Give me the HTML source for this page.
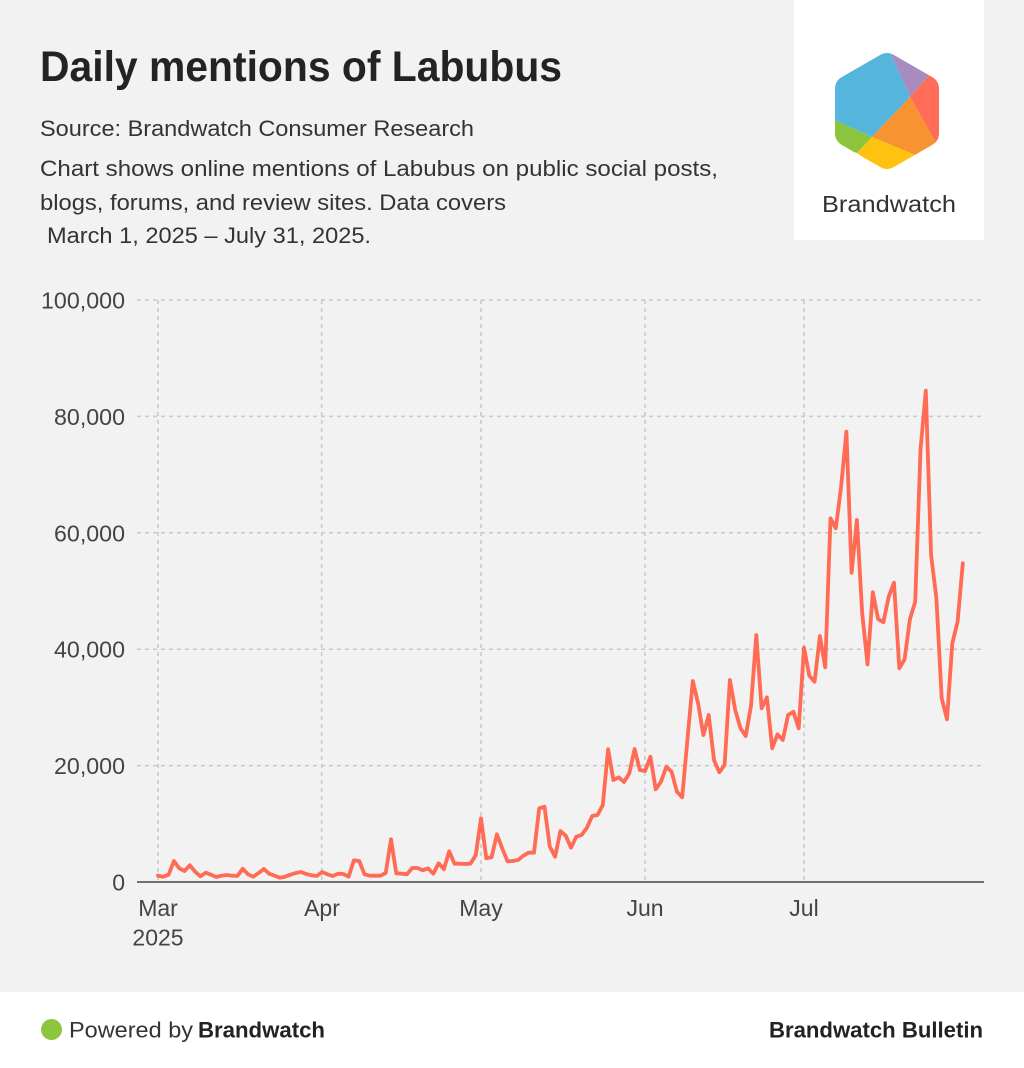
<!DOCTYPE html>
<html><head><meta charset="utf-8"><style>
html,body{margin:0;padding:0;background:#f2f2f2;}
svg{display:block;}
text{font-family:"Liberation Sans",Arial,sans-serif;}
</style></head><body>
<svg width="1024" height="1068" viewBox="0 0 1024 1068" xmlns="http://www.w3.org/2000/svg">
<defs>
<clipPath id="hex">
<path d="M893.9,55 L932.1,77 Q939,81 939,89 L939,133 Q939,141 932.1,145 L893.9,167 Q887,171 880.1,167 L841.9,145 Q835,141 835,133 L835,89 Q835,81 841.9,77 L880.1,55 Q887,51 893.9,55 Z"/>
</clipPath>
</defs>
<rect x="0" y="0" width="1024" height="1068" fill="#f2f2f2"/>
<rect x="0" y="992" width="1024" height="76" fill="#ffffff"/>
<rect x="794" y="0" width="190" height="240" fill="#ffffff"/>

<!-- Title and text -->
<text x="40" y="81" font-size="43" font-weight="bold" fill="#232323" textLength="522" lengthAdjust="spacingAndGlyphs">Daily mentions of Labubus</text>
<text x="40" y="136" font-size="22.5" fill="#333" textLength="434" lengthAdjust="spacingAndGlyphs">Source: Brandwatch Consumer Research</text>
<text x="40" y="176" font-size="22.5" fill="#333" textLength="678" lengthAdjust="spacingAndGlyphs">Chart shows online mentions of Labubus on public social posts,</text>
<text x="40" y="210" font-size="22.5" fill="#333" textLength="466" lengthAdjust="spacingAndGlyphs">blogs, forums, and review sites. Data covers</text>
<text x="47" y="243" font-size="22.5" fill="#333" textLength="324" lengthAdjust="spacingAndGlyphs">March 1, 2025 – July 31, 2025.</text>

<!-- Logo -->
<g clip-path="url(#hex)">
<polygon points="830,78 887,45 910,97 872,137 830,118" fill="#56b5dd"/>
<polygon points="887,45 932,72 910,97" fill="#a88bbf"/>
<polygon points="932,72 945,78 945,145 936,143 910,97" fill="#ff6c57"/>
<polygon points="910,97 936,143 945,145 915,160 915,155 872,137" fill="#f79331"/>
<polygon points="872,137 915,155 915,160 887,176 857,153" fill="#ffc20f"/>
<polygon points="830,118 872,137 857,153 830,145" fill="#8cc43d"/>
</g>
<text x="822" y="212" font-size="23" fill="#333" textLength="134" lengthAdjust="spacingAndGlyphs">Brandwatch</text>

<!-- Gridlines -->
<g stroke="#c8c8c8" stroke-width="1.5" stroke-dasharray="4,4" fill="none">
<line x1="137" y1="300" x2="984" y2="300"/>
<line x1="137" y1="416.4" x2="984" y2="416.4"/>
<line x1="137" y1="532.8" x2="984" y2="532.8"/>
<line x1="137" y1="649.2" x2="984" y2="649.2"/>
<line x1="137" y1="765.6" x2="984" y2="765.6"/>
<line x1="158" y1="300" x2="158" y2="882"/>
<line x1="321.7" y1="300" x2="321.7" y2="882"/>
<line x1="481" y1="300" x2="481" y2="882"/>
<line x1="645" y1="300" x2="645" y2="882"/>
<line x1="804" y1="300" x2="804" y2="882"/>
</g>

<!-- Y labels -->
<g font-size="23" fill="#444" text-anchor="end">
<text x="125" y="308.5" textLength="84" lengthAdjust="spacingAndGlyphs">100,000</text>
<text x="125" y="424.9" textLength="71" lengthAdjust="spacingAndGlyphs">80,000</text>
<text x="125" y="541.3" textLength="71" lengthAdjust="spacingAndGlyphs">60,000</text>
<text x="125" y="657.7" textLength="71" lengthAdjust="spacingAndGlyphs">40,000</text>
<text x="125" y="774.1" textLength="71" lengthAdjust="spacingAndGlyphs">20,000</text>
<text x="125" y="890.5">0</text>
</g>

<!-- X labels -->
<g font-size="23" fill="#444" text-anchor="middle">
<text x="158" y="916">Mar</text>
<text x="158" y="945.5">2025</text>
<text x="322" y="916">Apr</text>
<text x="481" y="916">May</text>
<text x="645" y="916">Jun</text>
<text x="804" y="916">Jul</text>
</g>

<!-- Data line -->
<polyline fill="none" stroke="#ff6b55" stroke-width="3.8" stroke-linejoin="round" stroke-linecap="round" points="
158.0,875.7 163.3,876.7 168.6,874.7 173.9,861.0 179.2,868.3 184.5,871.0 189.8,865.3 195.1,871.7 200.4,876.3 205.7,872.7
211.0,874.7 216.2,877.0 221.5,875.7 226.8,875.0 232.1,875.7 237.4,876.0 242.7,868.7 248.0,874.3 253.3,876.7 258.6,873.0
263.9,869.0 269.2,873.7 274.5,875.7 279.8,877.7 285.1,876.7 290.4,874.7 295.7,873.0 301.0,872.0 306.3,874.0 311.6,875.3
316.9,876.0 322.1,872.0 327.4,874.3 332.7,876.0 338.0,873.7 343.3,874.0 348.6,876.7 353.9,860.3 359.2,861.0 364.5,874.3
369.8,875.7 375.1,875.7 380.4,875.7 385.7,873.0 391.0,839.3 396.3,873.3 401.6,873.7 406.9,874.3 412.2,868.0 417.5,868.0
422.8,870.3 428.0,868.3 433.3,873.7 438.6,863.3 443.9,869.3 449.2,851.3 454.5,863.7 459.8,863.7 465.1,864.0 470.4,863.7
475.7,855.3 481.0,818.3 486.3,858.3 491.6,857.3 496.9,834.3 502.2,848.3 507.5,861.3 512.8,861.0 518.1,860.0 523.4,855.7
528.7,852.7 534.0,852.7 539.2,808.3 544.5,806.7 549.8,846.7 555.1,856.7 560.4,831.0 565.7,835.7 571.0,847.7 576.3,836.7
581.6,835.0 586.9,827.7 592.2,816.0 597.5,815.0 602.8,805.0 608.1,749.3 613.4,780.0 618.7,777.3 624.0,782.0 629.3,773.3
634.6,749.0 639.8,770.0 645.1,771.0 650.4,756.7 655.7,789.3 661.0,781.7 666.3,766.7 671.6,771.7 676.9,791.7 682.2,797.3
687.5,739.0 692.8,681.0 698.1,703.3 703.4,735.0 708.7,715.0 714.0,760.0 719.3,772.3 724.6,765.0 729.9,680.0 735.2,710.0
740.5,728.3 745.7,736.0 751.0,706.0 756.3,635.0 761.6,708.3 766.9,697.3 772.2,748.3 777.5,734.3 782.8,740.0 788.1,715.0
793.4,711.7 798.7,728.3 804.0,647.7 809.3,675.7 814.6,681.7 819.9,636.0 825.2,667.3 830.5,518.3 835.8,528.3 841.1,486.7
846.4,431.7 851.6,572.7 856.9,520.0 862.2,613.3 867.5,664.3 872.8,592.3 878.1,619.0 883.4,622.3 888.7,596.7 894.0,582.7
899.3,668.3 904.6,659.3 909.9,619.3 915.2,601.7 920.5,450.0 925.8,390.7 931.1,555.0 936.4,598.3 941.7,698.3 947.0,719.3
952.3,643.3 957.6,621.7 962.8,563.3"/>

<!-- Axis line -->
<line x1="137" y1="882" x2="984" y2="882" stroke="#707070" stroke-width="2"/>

<!-- Footer -->
<circle cx="51.5" cy="1029.5" r="10.5" fill="#8cc63f"/>
<text x="69" y="1037.5" font-size="22" fill="#333" textLength="124" lengthAdjust="spacingAndGlyphs">Powered by</text>
<text x="198" y="1037.5" font-size="22" font-weight="bold" fill="#222" textLength="127" lengthAdjust="spacingAndGlyphs">Brandwatch</text>
<text x="769" y="1037.5" font-size="22" font-weight="bold" fill="#222" textLength="214" lengthAdjust="spacingAndGlyphs">Brandwatch Bulletin</text>
</svg>
</body></html>
